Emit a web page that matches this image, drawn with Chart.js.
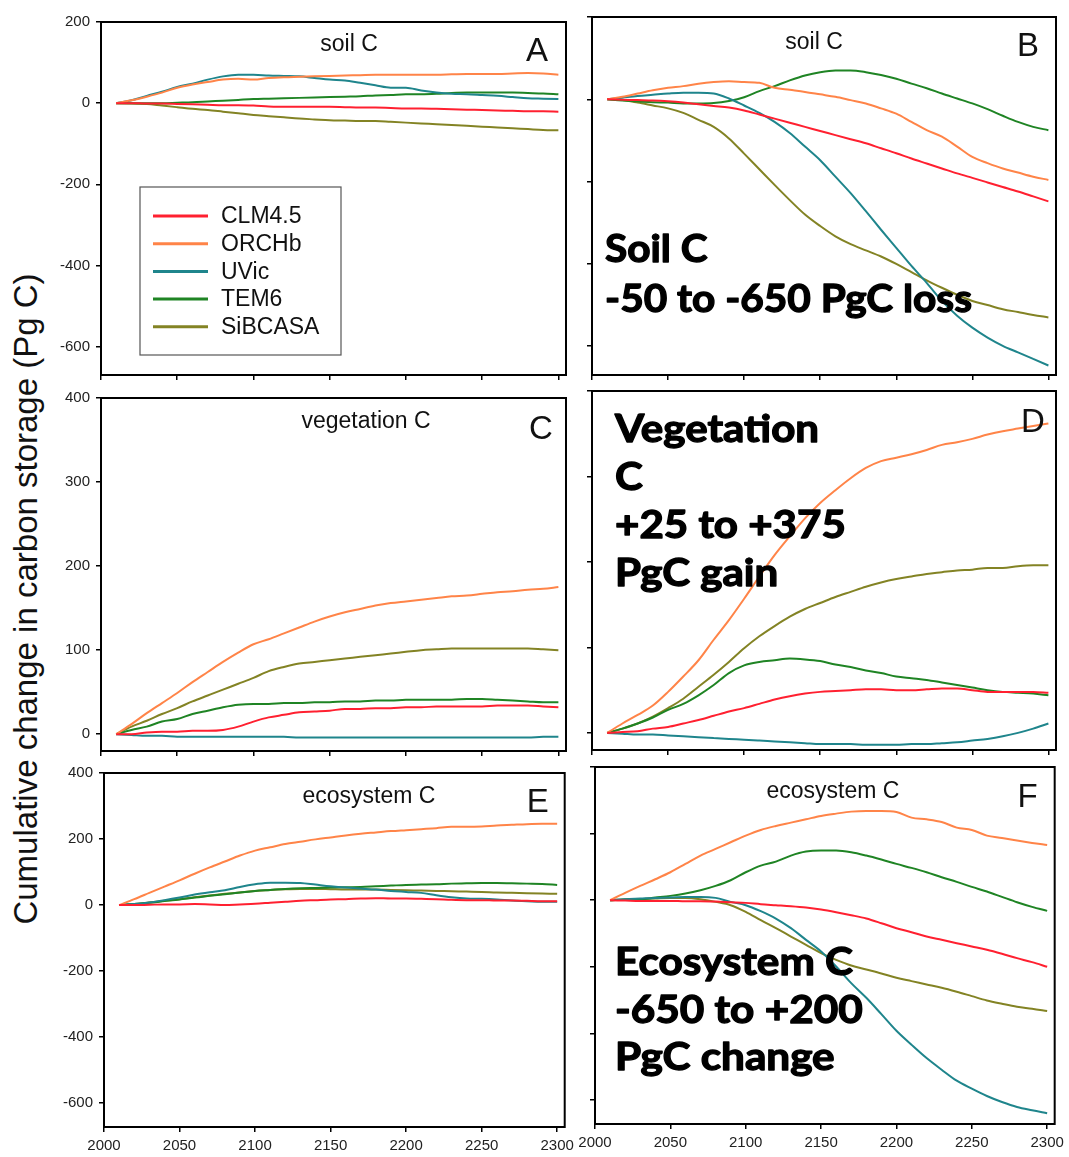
<!DOCTYPE html>
<html>
<head>
<meta charset="utf-8">
<script src="https://cdn.jsdelivr.net/npm/chart.js@4.4.0/dist/chart.umd.min.js"></script>
<style>
  body { margin: 0; background: #fff; }
  #page { position: relative; width: 1069px; height: 1157px; overflow: hidden; background: #fff; }
  #page canvas { position: absolute; }
  #ytitle {
    position: absolute; left: 26px; top: 599px;
    transform: translate(-50%, -50%) rotate(-90deg);
    font: 33px "Liberation Sans", Arial, sans-serif;
    white-space: nowrap; color: #111;
  }
</style>
</head>
<body>
<div id="page">
  <div id="ytitle">Cumulative change in carbon storage (Pg C)</div>
  <canvas id="cA"></canvas>
  <canvas id="cB"></canvas>
  <canvas id="cC"></canvas>
  <canvas id="cD"></canvas>
  <canvas id="cE"></canvas>
  <canvas id="cF"></canvas>
</div>
<script>
// ---- data (every 10 years) ----
const years = [2010, 2020, 2030, 2040, 2050, 2060, 2070, 2080, 2090, 2100,
               2110, 2120, 2130, 2140, 2150, 2160, 2170, 2180, 2190, 2200,
               2210, 2220, 2230, 2240, 2250, 2260, 2270, 2280, 2290, 2300];
const models = ["CLM4.5", "ORCHb", "UVic", "TEM6", "SiBCASA"];
const modelColors = ["#ff2030", "#ff8448", "#1f858c", "#1f8424", "#838324"];

const xTicks = [2000, 2050, 2100, 2150, 2200, 2250, 2300];
const soilTicks = [-600, -400, -200, 0, 200];
const vegTicks = [0, 100, 200, 300, 400];
const ecoTicks = [-600, -400, -200, 0, 200, 400];

// A: soil C (left)
const soilA_CLM = [0, 0, -1, -1, -2, -3, -4, -5, -5, -6, -8, -9, -9, -9, -9, -10, -11, -11, -12, -13, -13, -14, -15, -16, -17, -18, -19, -20, -20, -21];
const soilA_ORCHb = [0, 7, 16, 26, 38, 46, 52, 58, 60, 58, 62, 64, 65, 66, 67, 68, 69, 70, 70, 70, 70, 70, 71, 72, 72, 72, 73, 74, 73, 70];
const soilA_UVic = [0, 7, 18, 28, 40, 48, 58, 66, 70, 70, 68, 67, 66, 62, 58, 56, 50, 44, 38, 38, 31, 26, 23, 22, 20, 18, 15, 12, 11, 10];
const soilA_TEM6 = [0, 0, 0, 0, 1, 2, 4, 6, 8, 10, 11, 12, 13, 14, 15, 16, 17, 19, 20, 22, 22, 23, 25, 26, 26, 26, 26, 25, 24, 22];
const soilA_SiBCASA = [0, -1, -2, -6, -10, -14, -17, -21, -25, -29, -32, -35, -38, -40, -42, -43, -44, -44, -46, -48, -50, -52, -54, -56, -58, -60, -62, -64, -66, -67];

// B: soil C (right)
const soilB_CLM = [0, -1, -2, -3, -5, -8, -12, -16, -20, -27, -37, -47, -57, -67, -77, -87, -97, -107, -119, -131, -144, -156, -168, -180, -191, -202, -213, -224, -236, -248];
const soilB_ORCHb = [0, 6, 14, 22, 28, 32, 38, 42, 44, 42, 40, 28, 23, 18, 12, 6, -2, -10, -22, -35, -55, -75, -91, -115, -140, -155, -168, -178, -188, -196];
const soilB_UVic = [0, 4, 8, 11, 14, 16, 16, 14, 2, -15, -33, -55, -82, -115, -148, -188, -228, -272, -317, -361, -405, -446, -490, -526, -555, -579, -599, -615, -631, -647];
const soilB_TEM6 = [0, -3, -5, -7, -8, -10, -10, -9, -4, 5, 20, 32, 46, 58, 66, 70, 70, 66, 59, 50, 38, 27, 14, 2, -10, -24, -40, -55, -67, -75];
const soilB_SiBCASA = [0, -2, -8, -15, -22, -33, -50, -67, -95, -132, -170, -208, -245, -280, -308, -333, -352, -367, -382, -400, -420, -440, -458, -475, -490, -500, -510, -517, -524, -530];

// C: vegetation C (left)
const vegC_CLM = [0, 0, 2, 3, 3, 4, 4, 5, 9, 15, 20, 23, 26, 27, 28, 30, 30, 31, 31, 32, 32, 33, 33, 33, 33, 34, 34, 34, 33, 32];
const vegC_ORCHb = [0, 12, 25, 37, 49, 62, 74, 86, 97, 107, 113, 120, 127, 134, 140, 145, 149, 153, 156, 158, 160, 162, 164, 165, 167, 169, 170, 172, 173, 175];
const vegC_UVic = [0, -1, -2, -2, -3, -3, -3, -3, -3, -3, -3, -3, -4, -4, -4, -4, -4, -4, -4, -4, -4, -4, -4, -4, -4, -4, -4, -4, -3, -3];
const vegC_TEM6 = [0, 5, 9, 15, 18, 24, 28, 32, 35, 36, 36, 37, 37, 38, 38, 39, 39, 40, 40, 41, 41, 41, 41, 42, 42, 41, 40, 39, 38, 38];
const vegC_SiBCASA = [0, 9, 16, 24, 31, 39, 46, 53, 60, 67, 75, 80, 84, 86, 88, 90, 92, 94, 96, 98, 100, 101, 102, 102, 102, 102, 102, 102, 101, 100];

// D: vegetation C (right)
const vegD_CLM = [0, 1, 2, 5, 7, 11, 15, 20, 25, 29, 34, 39, 43, 46, 48, 49, 50, 51, 51, 50, 50, 51, 52, 52, 50, 48, 48, 48, 48, 47];
const vegD_ORCHb = [0, 11, 21, 32, 48, 66, 85, 109, 132, 157, 183, 208, 230, 251, 269, 284, 298, 310, 318, 322, 326, 331, 337, 340, 344, 349, 353, 356, 359, 362];
const vegD_UVic = [0, -1, -2, -2, -3, -4, -5, -6, -7, -8, -9, -10, -11, -12, -13, -13, -13, -14, -14, -14, -13, -13, -12, -11, -9, -7, -4, 0, 5, 11];
const vegD_TEM6 = [0, 5, 11, 18, 27, 34, 44, 56, 70, 79, 83, 85, 87, 86, 84, 80, 77, 73, 70, 66, 64, 62, 59, 56, 53, 50, 48, 47, 46, 44];
const vegD_SiBCASA = [0, 5, 11, 19, 29, 40, 54, 68, 83, 99, 113, 125, 136, 145, 152, 159, 165, 171, 176, 180, 183, 186, 188, 190, 191, 193, 193, 195, 196, 196];

// E: ecosystem C (left)
const ecoE_CLM = [0, 0, 1, 2, 2, 3, 2, 0, 2, 4, 7, 10, 13, 15, 17, 18, 20, 21, 20, 20, 19, 18, 16, 15, 15, 14, 14, 13, 12, 12];
const ecoE_ORCHb = [0, 18, 37, 56, 75, 95, 114, 132, 150, 165, 175, 185, 192, 199, 205, 211, 216, 220, 224, 227, 230, 233, 237, 237, 238, 241, 243, 245, 246, 246];
const ecoE_UVic = [0, 3, 8, 15, 23, 32, 39, 45, 55, 63, 68, 68, 67, 62, 57, 53, 50, 47, 43, 40, 37, 30, 24, 20, 19, 17, 14, 12, 10, 10];
const ecoE_TEM6 = [0, 3, 7, 12, 17, 23, 28, 33, 38, 43, 46, 49, 51, 52, 53, 54, 55, 57, 59, 61, 62, 63, 65, 66, 67, 67, 66, 65, 64, 61];
const ecoE_SiBCASA = [0, 3, 8, 13, 18, 24, 29, 34, 38, 43, 46, 48, 49, 49, 48, 47, 47, 47, 46, 45, 44, 43, 42, 41, 40, 38, 37, 36, 35, 34];

// F: ecosystem C (right)
const ecoF_CLM = [0, -1, -2, -2, -2, -3, -3, -4, -6, -8, -12, -15, -18, -22, -28, -36, -45, -55, -69, -84, -96, -109, -119, -129, -139, -149, -161, -174, -186, -200];
const ecoF_ORCHb = [0, 22, 43, 63, 84, 109, 134, 154, 174, 194, 211, 223, 233, 243, 253, 260, 266, 268, 268, 265, 248, 243, 235, 218, 211, 194, 187, 179, 172, 166];
const ecoF_UVic = [0, 3, 5, 7, 8, 10, 10, 7, -5, -15, -33, -55, -84, -119, -154, -199, -249, -293, -342, -392, -434, -474, -509, -542, -566, -588, -606, -621, -631, -640];
const ecoF_TEM6 = [0, 2, 3, 8, 13, 20, 30, 43, 60, 84, 104, 116, 134, 146, 149, 149, 144, 134, 122, 109, 97, 84, 69, 55, 40, 26, 10, -6, -20, -32];
const ecoF_SiBCASA = [0, 2, 3, 5, 7, 7, 3, -5, -15, -35, -60, -84, -109, -134, -159, -179, -196, -208, -220, -233, -243, -253, -263, -275, -288, -301, -311, -320, -326, -333];

// ---- layout ----
const PAD_L = 70, PAD_T = 10, PAD_R = 10, PAD_B = 45;
const tickFont = { family: "'Liberation Sans', Arial, sans-serif", size: 15 };
const bigFont = "bold 38px Lato, 'Open Sans', sans-serif";

const panels = [
  { id: "cA", box: [101, 17, 566, 375], y: [-670, 200], yTicks: soilTicks, yLabels: true, xLabels: false,
    series: [soilA_CLM, soilA_ORCHb, soilA_UVic, soilA_TEM6, soilA_SiBCASA],
    title: "soil C", titlePos: [248, 23], letter: "A", letterPos: [29, 30], legend: true },
  { id: "cB", box: [592, 17, 1056, 375], y: [-670, 200], yTicks: soilTicks, yLabels: false, xLabels: false,
    series: [soilB_CLM, soilB_ORCHb, soilB_UVic, soilB_TEM6, soilB_SiBCASA],
    title: "soil C", titlePos: [222, 26], letter: "B", letterPos: [28, 30],
    note: ["Soil C", "-50 to -650 PgC loss"], notePos: [13, 245, 50], noteFit: [1, 367] },
  { id: "cC", box: [101, 393, 566, 751], y: [-20, 400], yTicks: vegTicks, yLabels: true, xLabels: false,
    series: [vegC_CLM, vegC_ORCHb, vegC_UVic, vegC_TEM6, vegC_SiBCASA],
    title: "vegetation C", titlePos: [265, 24], letter: "C", letterPos: [25, 32] },
  { id: "cD", box: [592, 391, 1056, 750], y: [-20, 400], yTicks: vegTicks, yLabels: false, xLabels: false,
    series: [vegD_CLM, vegD_ORCHb, vegD_UVic, vegD_TEM6, vegD_SiBCASA],
    letter: "D", letterPos: [23, 32],
    note: ["Vegetation", "C", "+25 to +375", "PgC gain"], notePos: [23, 51, 48], noteFit: [0, 204] },
  { id: "cE", box: [104, 768, 569, 1127], y: [-672, 400], yTicks: ecoTicks, yLabels: true, xLabels: true,
    series: [ecoE_CLM, ecoE_ORCHb, ecoE_UVic, ecoE_TEM6, ecoE_SiBCASA],
    title: "ecosystem C", titlePos: [265, 24], letter: "E", letterPos: [27, 30] },
  { id: "cF", box: [595, 767, 1059, 1124], y: [-672, 400], yTicks: ecoTicks, yLabels: false, xLabels: true,
    series: [ecoF_CLM, ecoF_ORCHb, ecoF_UVic, ecoF_TEM6, ecoF_SiBCASA],
    title: "ecosystem C", titlePos: [238, 25], letter: "F", letterPos: [27, 31],
    note: ["Ecosystem C", "-650 to +200", "PgC change"], notePos: [20, 208, 47.5], noteFit: [0, 238] }
];

// frame, panel title, letter, legend and the bold notes
const panelDecor = {
  id: "panelDecor",
  afterDatasetsDraw(chart, args, p) {
    const ctx = chart.ctx, a = chart.chartArea;
    ctx.save();
    ctx.strokeStyle = "#000";
    ctx.lineWidth = 2;
    ctx.strokeRect(a.left, a.top, a.right - a.left, a.bottom - a.top);

    ctx.fillStyle = "#111";
    ctx.textBaseline = "middle";
    ctx.textAlign = "center";
    if (p.title) {
      ctx.font = "23px 'Liberation Sans', Arial, sans-serif";
      ctx.fillText(p.title, a.left + p.titlePos[0], a.top + p.titlePos[1]);
    }
    ctx.font = "33px 'Liberation Sans', Arial, sans-serif";
    ctx.fillText(p.letter, a.right - p.letterPos[0], a.top + p.letterPos[1]);

    if (p.legend) {
      const bx = a.left + 39, by = a.top + 165;
      ctx.fillStyle = "#fff";
      ctx.fillRect(bx, by, 201, 168);
      ctx.strokeStyle = "#555";
      ctx.lineWidth = 1.2;
      ctx.strokeRect(bx, by, 201, 168);
      ctx.font = "23px 'Liberation Sans', Arial, sans-serif";
      ctx.textAlign = "left";
      chart.data.datasets.forEach((ds, i) => {
        const yy = by + 29 + i * 27.7;
        ctx.strokeStyle = ds.borderColor;
        ctx.lineWidth = 3;
        ctx.beginPath();
        ctx.moveTo(bx + 13, yy);
        ctx.lineTo(bx + 68, yy);
        ctx.stroke();
        ctx.fillStyle = "#111";
        ctx.fillText(ds.label, bx + 81, yy + 1);
      });
    }

    if (p.note) {
      ctx.font = bigFont;
      ctx.textAlign = "left";
      ctx.textBaseline = "alphabetic";
      ctx.fillStyle = "#000";
      ctx.strokeStyle = "#000";
      ctx.lineWidth = 1.3;
      ctx.lineJoin = "round";
      const sx = p.noteFit[1] / ctx.measureText(p.note[p.noteFit[0]]).width;
      const x0 = a.left + p.notePos[0];
      p.note.forEach((line, i) => {
        const yy = a.top + p.notePos[1] + i * p.notePos[2];
        ctx.save();
        ctx.translate(x0, yy);
        ctx.scale(sx, 1);
        ctx.fillText(line, 0, 0);
        ctx.strokeText(line, 0, 0);
        ctx.restore();
      });
    }
    ctx.restore();
  }
};

panels.forEach(p => {
  const [l, t, r, b] = p.box;
  const canvas = document.getElementById(p.id);
  canvas.width = (r - l) + PAD_L + PAD_R;
  canvas.height = (b - t) + PAD_T + PAD_B;
  canvas.style.left = (l - PAD_L) + "px";
  canvas.style.top = (t - PAD_T) + "px";

  const datasets = models.map((name, i) => ({
    label: name,
    data: years.map((yr, k) => ({ x: yr, y: p.series[i][k] })),
    borderColor: modelColors[i],
    borderWidth: 2,
    pointRadius: 0,
    cubicInterpolationMode: "monotone",
    fill: false
  }));

  new Chart(canvas, {
    type: "line",
    data: { datasets: datasets },
    plugins: [panelDecor],
    options: {
      responsive: false,
      animation: false,
      layout: { padding: { left: 0, top: PAD_T, right: PAD_R, bottom: 0 } },
      plugins: {
        legend: { display: false },
        tooltip: { enabled: false },
        panelDecor: p
      },
      scales: {
        x: {
          type: "linear", min: 2000, max: 2305,
          afterBuildTicks: s => { s.ticks = xTicks.map(v => ({ value: v })); },
          afterFit: s => { s.height = PAD_B; },
          ticks: { display: p.xLabels, autoSkip: false, maxRotation: 0, padding: 5,
                   font: tickFont, color: "#222", callback: v => String(v) },
          grid: { drawOnChartArea: false, drawTicks: true, tickLength: 5, color: "#000", lineWidth: 1.5 },
          border: { display: false }
        },
        y: {
          min: p.y[0], max: p.y[1],
          afterBuildTicks: s => { s.ticks = p.yTicks.map(v => ({ value: v })); },
          afterFit: s => { s.width = PAD_L; },
          ticks: { display: p.yLabels, autoSkip: false, padding: 6,
                   font: tickFont, color: "#222", callback: v => String(v) },
          grid: { drawOnChartArea: false, drawTicks: true, tickLength: 5, color: "#000", lineWidth: 1.5 },
          border: { display: false }
        }
      }
    }
  });
});
</script>
</body>
</html>
